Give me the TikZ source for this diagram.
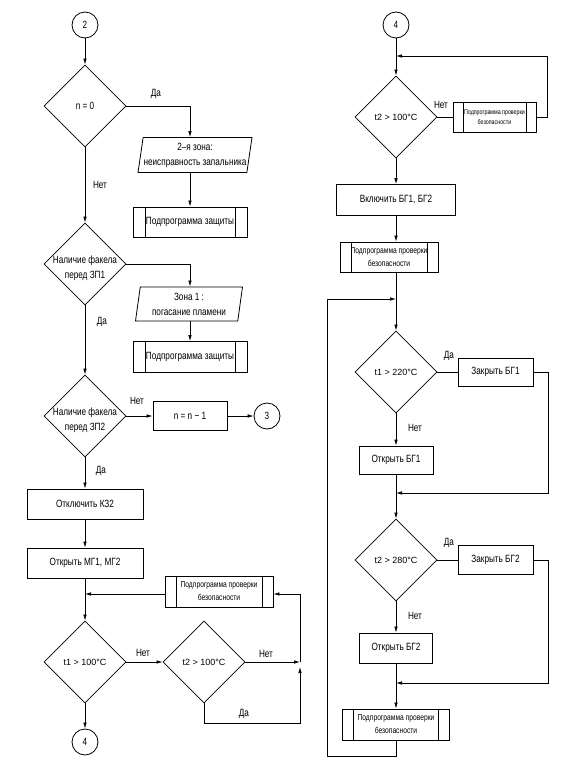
\documentclass[tikz,border=0pt]{standalone}
\usepackage{fontspec}
\setmainfont{Liberation Sans}
\newfontfamily\gost[FakeStretch=0.78]{Liberation Sans}
\usetikzlibrary{shapes.geometric,arrows.meta}
\tikzset{
  shapeline/.style={draw, line width=0.8pt},
  txt/.style={font=\gost\fontsize{10.5}{15}\selectfont, align=center},
  proc/.style={shapeline, txt, rectangle, inner sep=1pt},
  subproc/.style={proc, path picture={
      \draw[line width=0.8pt] ([xshift=#1]path picture bounding box.north west) -- ([xshift=#1]path picture bounding box.south west);
      \draw[line width=0.8pt] ([xshift=-#1]path picture bounding box.north east) -- ([xshift=-#1]path picture bounding box.south east);}},
  subproc/.default=11pt,
  smalltxt/.style={font=\gost\fontsize{8.6}{13}\selectfont},
  tinytxt/.style={font=\gost\fontsize{6.8}{10}\selectfont},
  io/.style={shapeline, txt, trapezium, trapezium left angle=79, trapezium right angle=101,
      trapezium stretches body, inner xsep=0pt, inner ysep=1pt},
  dec/.style={shapeline, diamond, minimum width=82pt, minimum height=82pt, inner sep=0pt},
  dtxt/.style={txt},
  tfont/.style={font=\fontsize{9}{11}\selectfont},
  conn/.style={shapeline, circle, minimum size=26pt, inner sep=0pt, font=\gost\fontsize{10.5}{12}\selectfont},
  ln/.style={line width=0.7pt},
  arr/.style={ln, -{Latex[length=6pt,width=3.5pt]}},
  lab/.style={font=\gost\fontsize{10.5}{12}\selectfont, inner sep=0pt}
}
\begin{document}
\begin{tikzpicture}[x=1pt,y=-1pt]
\useasboundingbox (0,0) rectangle (560,779);
% ---------- left column ----------
\node[conn] (c2) at (85,25) {2};
\node[dec, label={[dtxt]center:n = 0}] (d1) at (85,106) {};
\node[io, minimum width=114pt, minimum height=35pt] (p1) at (195,155) {2–я зона:\\неисправность запальника};
\node[subproc=12pt, minimum width=114pt, minimum height=30pt] (s1) at (190,222) {Подпрограмма защиты};
\node[dec, label={[dtxt,yshift=-4pt]center:Наличие факела\\перед ЗП1}] (d2) at (85,264) {};
\node[io, minimum width=107pt, minimum height=34pt] (p2) at (189,304) {Зона 1 :\\погасание пламени};
\node[subproc=12pt, minimum width=114pt, minimum height=31pt] (s2) at (190,357) {Подпрограмма защиты};
\node[dec, label={[dtxt,yshift=-4pt]center:Наличие факела\\перед ЗП2}] (d3) at (85,416) {};
\node[proc, minimum width=74pt, minimum height=29pt] (b1) at (190,416) {n = n − 1};
\node[conn] (c3) at (267,416) {3};
\node[proc, minimum width=116pt, minimum height=30pt] (b2) at (85,504) {Отключить КЗ2};
\node[proc, minimum width=116pt, minimum height=30pt] (b3) at (85,563) {Открыть МГ1, МГ2};
\node[subproc, smalltxt, minimum width=108pt, minimum height=31pt] (s3) at (219,591.5) {Подпрограмма проверки\\безопасности};
\node[dec, label={[tfont]center:t1 > 100°C}] (d4) at (85,662) {};
\node[dec, label={[tfont]center:t2 > 100°C}] (d5) at (204,662) {};
\node[conn] (c4) at (85,742) {4};
\coordinate (rc) at (300,723);
\coordinate (rt) at (300,594);

\node[lab] (l1) at (156,94) {Да};
\node[lab] (l2) at (100,185) {Нет};
\node[lab] (l3) at (102,322) {Да};
\node[lab] (l4) at (137,401) {Нет};
\node[lab] (l5) at (101,471) {Да};
\node[lab] (l6) at (143,653) {Нет};
\node[lab] (l7) at (266,654) {Нет};
\node[lab] (l8) at (244,714) {Да};

\draw[arr] (c2.south) -- (d1.north);
\draw[arr] (d1.east) -| (p1.north -| s1.north);
\draw[arr] (p1.south -| s1.north) -- (s1.north);
\draw[arr] (d1.south) -- (d2.north);
\draw[arr] (d2.east) -| (p2.north -| s2.north);
\draw[arr] (p2.south -| s2.north) -- (s2.north);
\draw[arr] (d2.south) -- (d3.north);
\draw[arr] (d3.east) -- (b1.west);
\draw[arr] (b1.east) -- (c3.west);
\draw[arr] (d3.south) -- (b2.north);
\draw[arr] (b2.south) -- (b3.north);
\draw[arr] (b3.south) -- (d4.north);
\draw[arr] (rt -| s3.west) -- (rt -| b3.south);
\draw[arr] (d4.east) -- (d5.west);
\draw[arr] (d5.east) -- (d5.east -| rc);
\draw[arr] (d5.south) |- (rc) -- ++(0,-56);
\draw[arr] (d5.east -| rc) -- (rt) -- (rt -| s3.east);
\draw[arr] (d4.south) -- (c4.north);

% ---------- right column ----------
\node[conn] (c5) at (396,25) {4};
\node[dec, label={[tfont]center:t2 > 100°C}] (e1) at (396,117) {};
\node[subproc=10pt, tinytxt, minimum width=83pt, minimum height=30pt] (s4) at (494.5,117) {Подпрограмма проверки\\безопасности};
\node[proc, minimum width=119pt, minimum height=31pt] (b4) at (396,200) {Включить БГ1, БГ2};
\node[subproc, smalltxt, minimum width=98pt, minimum height=30pt] (s5) at (389,257) {Подпрограмма проверки\\безопасности};
\node[dec, label={[tfont]center:t1 > 220°C}] (e2) at (396,372) {};
\node[proc, minimum width=75pt, minimum height=28pt] (b5) at (495.5,372) {Закрыть БГ1};
\node[proc, minimum width=74pt, minimum height=28pt] (b6) at (396,460) {Открыть БГ1};
\node[dec, label={[tfont]center:t2 > 280°C}] (e3) at (396,560) {};
\node[proc, minimum width=75pt, minimum height=29pt] (b7) at (495.5,560) {Закрыть БГ2};
\node[proc, minimum width=73pt, minimum height=30pt] (b8) at (396,648) {Открыть БГ2};
\node[subproc, smalltxt, minimum width=107pt, minimum height=31pt] (s6) at (396,724.5) {Подпрограмма проверки\\безопасности};
\coordinate (t56) at (547,56);
\coordinate (lp) at (327,756);
\coordinate (lj) at (327,299);
\coordinate (m1) at (548,493);
\coordinate (m2) at (548,683);

\node[lab] (r1) at (441,105) {Нет};
\node[lab] (r2) at (449,356) {Да};
\node[lab] (r3) at (415,428) {Нет};
\node[lab] (r4) at (449,543) {Да};
\node[lab] (r5) at (415,616) {Нет};

\draw[arr] (c5.south) -- (e1.north);
\draw[ln] (e1.east) -- (s4.west);
\draw[arr] (s4.east) -| (t56) -- (t56 -| c5.south);
\draw[arr] (e1.south) -- (b4.north);
\draw[arr] (b4.south) -- (b4.south |- s5.north);
\draw[arr] (s5.south -| e2.north) -- (e2.north);
\draw[arr] (s6.south) |- (lp) -- (lj) -- (lj -| e2.north);
\draw[ln] (e2.east) -- (b5.west);
\draw[arr] (b5.east) -| (m1) -- (m1 -| e2.south);
\draw[arr] (e2.south) -- (b6.north);
\draw[arr] (b6.south) -- (e3.north);
\draw[ln] (e3.east) -- (b7.west);
\draw[arr] (b7.east) -| (m2) -- (m2 -| e3.south);
\draw[arr] (e3.south) -- (b8.north);
\draw[arr] (b8.south) -- (s6.north);
\end{tikzpicture}
\end{document}
